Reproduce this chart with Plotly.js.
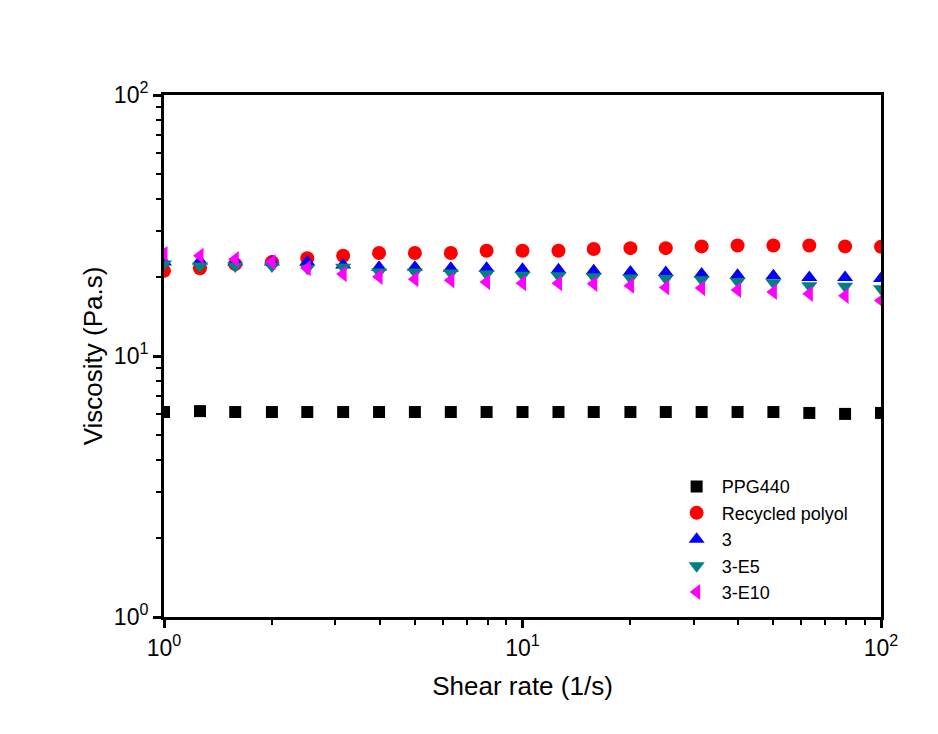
<!DOCTYPE html>
<html>
<head>
<meta charset="utf-8">
<script src="https://cdn.plot.ly/plotly-3.0.1.min.js"></script>
<style>
  body { margin: 0; background: #fff; }
  #grafica { width: 938px; height: 734px; }
</style>
</head>
<body>
<div id="grafica"></div>
<script>
// shear rate (1/s), 10 points per decade
const shearRate = [1, 1.26, 1.58, 2, 2.51, 3.16, 3.98, 5.01, 6.31, 7.94, 10,
    12.6, 15.8, 20, 25.1, 31.6, 39.8, 50.1, 63.1, 79.4, 100];

// viscosity (Pa.s)
const ppg440 = [6.1, 6.15, 6.1, 6.1, 6.1, 6.1, 6.1, 6.1, 6.1, 6.1, 6.1,
    6.1, 6.1, 6.1, 6.1, 6.1, 6.1, 6.1, 6.05, 6.0, 6.05];
const recycledPolyol = [21.2, 21.7, 22.5, 22.9, 23.7, 24.2, 24.8, 24.8, 24.8, 25.3, 25.3,
    25.3, 25.7, 25.9, 25.9, 26.3, 26.5, 26.5, 26.5, 26.3, 26.2];
const serie3 = [22.9, 23.1, 22.9, 22.9, 22.9, 22.3, 21.9, 21.9, 21.7, 21.7, 21.5,
    21.4, 21.2, 21.0, 20.9, 20.6, 20.4, 20.3, 20.0, 20.0, 19.8];
const serie3E5 = [22.5, 22.1, 22.1, 22.1, 21.7, 21.9, 21.0, 21.0, 20.8, 20.6, 20.4,
    20.3, 20.1, 19.9, 19.8, 19.6, 19.3, 19.1, 18.6, 18.5, 18.1];
const serie3E10 = [24.6, 24.2, 23.5, 22.9, 21.7, 20.6, 20.1, 19.7, 19.5, 19.2, 19.0,
    19.0, 18.9, 18.6, 18.3, 18.2, 17.9, 17.6, 17.3, 17.0, 16.3];

const nombres = ['PPG440', 'Recycled polyol', '3', '3-E5', '3-E10'];
const colores = ['#000000', '#ff0000', '#0000ff', '#008080', '#ff00ff'];
const simbolos = ['square', 'circle', 'triangle-up', 'triangle-down', 'triangle-left'];

const tickVals = [1, 10, 100];
const tickText = ['10<sup>0</sup>', '10<sup>1</sup>', '10<sup>2</sup>'];
const minorVals = [2, 3, 4, 5, 6, 7, 8, 9, 20, 30, 40, 50, 60, 70, 80, 90];

const series = [ppg440, recycledPolyol, serie3, serie3E5, serie3E10];

const data = series.map((ys, i) => ({
    x: shearRate,
    y: ys,
    mode: 'markers',
    type: 'scatter',
    name: nombres[i],
    marker: {
        symbol: simbolos[i],
        color: colores[i],
        size: simbolos[i] === 'square' ? 12 : 14
    }
}));

const fuente = 'Liberation Sans, Arial';

const ejeBase = {
    type: 'log',
    showline: true,
    linecolor: '#000',
    linewidth: 3,
    mirror: true,
    showgrid: false,
    zeroline: false,
    ticks: 'outside',
    ticklen: 8,
    tickwidth: 3,
    tickcolor: '#000',
    tickmode: 'array',
    tickvals: tickVals,
    ticktext: tickText,
    tickfont: { family: fuente, size: 23, color: '#000' },
    minor: {
        tickmode: 'array',
        tickvals: minorVals,
        ticks: 'outside',
        ticklen: 5,
        tickwidth: 2,
        tickcolor: '#000',
        showgrid: false
    }
};

const layout = {
    width: 938,
    height: 734,
    margin: { l: 164, r: 57, t: 95, b: 117 },
    paper_bgcolor: '#fff',
    plot_bgcolor: '#fff',
    showlegend: true,
    legend: {
        x: 0.708,
        y: 0.285,
        xanchor: 'left',
        yanchor: 'top',
        bgcolor: 'rgba(0,0,0,0)',
        font: { family: fuente, size: 18, color: '#000' },
        itemwidth: 40,
        tracegroupgap: 0
    },
    xaxis: Object.assign({}, ejeBase, {
        range: [0, 2],
        title: { text: 'Shear rate (1/s)', font: { family: fuente, size: 26, color: '#000' }, standoff: 18 }
    }),
    yaxis: Object.assign({}, ejeBase, {
        range: [0, 2],
        title: { text: 'Viscosity (Pa.s)', font: { family: fuente, size: 26, color: '#000' }, standoff: 4 }
    })
};

Plotly.newPlot('grafica', data, layout, { displayModeBar: false, staticPlot: true });
</script>
</body>
</html>
